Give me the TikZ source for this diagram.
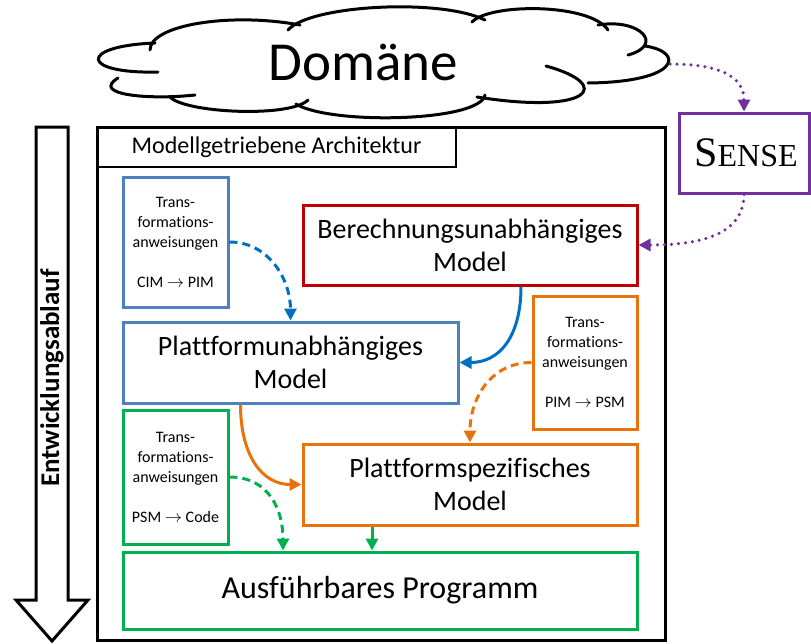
\documentclass[tikz,border=0pt]{standalone}
\usepackage{fontspec}
\setmainfont{Carlito}[Ligatures={NoCommon}]
\newfontfamily\sensefont{Liberation Serif}
\usetikzlibrary{arrows.meta,calc}

\definecolor{mdablue}{HTML}{4F81BD}
\definecolor{mdared}{HTML}{C00000}
\definecolor{mdaorange}{HTML}{E8720C}
\definecolor{mdagreen}{HTML}{00B050}
\definecolor{mdapurple}{HTML}{7030A0}
\definecolor{flowblue}{HTML}{0070C0}

\tikzset{
  box/.style={draw=#1, line width=3pt, fill=white, inner sep=0pt, align=center},
  smalltext/.style={font=\fontsize{16}{20}\selectfont},
  midtext/.style={font=\fontsize{28}{33}\selectfont},
  bigtext/.style={font=\fontsize{32}{38}\selectfont},
  tip/.style={-{Triangle[length=12pt,width=12pt]}},
  flow/.style={tip, line width=3pt, draw=#1},
  dashflow/.style={flow=#1, dash pattern=on 8pt off 5pt},
  dotflow/.style={tip, draw=#1, line width=3.5pt, line cap=round, dash pattern=on 0pt off 7pt},
  cloudline/.style={line width=3pt, line cap=round}
}

\begin{document}
\begin{tikzpicture}[x=1pt,y=1pt]
\useasboundingbox (0,0) rectangle (811,-643);

% cloud made of single lobes with inward hooks
\begin{scope}[cloudline]
  \draw (158,-72) .. controls (80,-74) and (78,-46) .. (155,-43);
  \draw (150,-50) .. controls (150,-25) and (230,-12) .. (300,-25);
  \draw (288,-30) .. controls (310,-5) and (440,2) .. (485,-20);
  \draw (472,-22) .. controls (490,-3) and (590,-3) .. (608,-30);
  \draw (598,-25) .. controls (640,-18) and (665,-45) .. (628,-55);
  \draw (645,-46) .. controls (685,-52) and (680,-82) .. (588,-83);
  \draw (546,-66) .. controls (615,-85) and (590,-115) .. (477,-97);
  \draw (485,-95) .. controls (480,-122) and (330,-125) .. (296,-104);
  \draw (170,-97) .. controls (185,-113) and (290,-118) .. (308,-100);
  \draw (195,-95) .. controls (150,-100) and (90,-95) .. (118,-78);
\end{scope}
\node[anchor=base, font=\fontsize{55}{60}\selectfont] (dom) at (363,-80) {Domäne};
\coordinate (cloudE) at (670,-64);

% development flow arrow
\draw[line width=3pt, line join=miter]
  (36,-127) -- (68,-127) -- (68,-600) -- (88,-600) -- (52,-641)
  -- (16,-600) -- (36,-600) -- cycle;
\node[rotate=90, font=\bfseries\fontsize{27}{30}\selectfont] (dev) at (52,-378) {Entwicklungsablauf};

% architecture frame and title
\node[draw, line width=3pt, minimum width=568pt, minimum height=513pt, inner sep=0pt] (frame) at (381,-383.5) {};
\node[draw, line width=2.5pt, minimum width=359pt, minimum height=40pt, inner sep=0pt,
      font=\fontsize{24}{28}\selectfont] (title) at (276.5,-147) {Modellgetriebene Architektur};

% SENSE
\node[box=mdapurple, minimum width=130pt, minimum height=80pt] (sense) at (744,-153)
  {\hspace*{4pt}\sensefont\fontsize{42}{42}\selectfont S\fontsize{32}{32}\selectfont ENSE};

% models
\node[box=mdared, midtext, minimum width=334pt, minimum height=80pt] (cim) at (470,-245)
  {Berechnungsunabhängiges\\Model};
\node[box=mdablue, midtext, minimum width=335pt, minimum height=81pt] (pim) at (290.5,-362.5)
  {Plattformunabhängiges\\Model};
\node[box=mdaorange, midtext, minimum width=334pt, minimum height=81pt] (psm) at (470,-484.5)
  {Plattformspezifisches\\Model};
\node[box=mdagreen, bigtext, minimum width=514pt, minimum height=77pt] (prog) at (380,-590.5)
  {Ausführbares Programm};

% transformation rules
\node[box=mdablue, smalltext, minimum width=105pt, minimum height=130pt] (t1) at (175.5,-242)
  {Trans-\\formations-\\anweisungen\\[20pt]CIM \ensuremath{\rightarrow} PIM};
\node[box=mdaorange, smalltext, minimum width=104pt, minimum height=133pt] (t2) at (585,-362.5)
  {Trans-\\formations-\\anweisungen\\[20pt]PIM \ensuremath{\rightarrow} PSM};
\node[box=mdagreen, smalltext, minimum width=105pt, minimum height=134pt] (t3) at (175.5,-477)
  {Trans-\\formations-\\anweisungen\\[20pt]PSM \ensuremath{\rightarrow} Code};

% connectors
\draw[dotflow=mdapurple] (cloudE) .. controls +(50,0) and +(0,35) .. (sense.north);
\draw[dotflow=mdapurple] (sense.south) .. controls +(0,-45) and +(50,0) .. (cim.east);

\draw[dashflow=flowblue] (t1.east) .. controls +(40,0) and +(0,40) .. (pim.north);
\draw[flow=flowblue] ([xshift=51pt]cim.south) .. controls +(0,-50) and +(40,0) .. (pim.east);

\draw[dashflow=mdaorange] (t2.west) .. controls +(-40,0) and +(0,45) .. (psm.north);
\draw[flow=mdaorange] ([xshift=-50pt]pim.south) .. controls +(0,-50) and +(-40,0) .. (psm.west);

\coordinate (psmOut) at ([xshift=-98pt]psm.south);
\draw[dashflow=mdagreen] (t3.east) .. controls +(40,0) and +(0,40) .. ([xshift=-97pt]prog.north);
\draw[flow=mdagreen] (psmOut) -- (psmOut |- prog.north);
\end{tikzpicture}
\end{document}
